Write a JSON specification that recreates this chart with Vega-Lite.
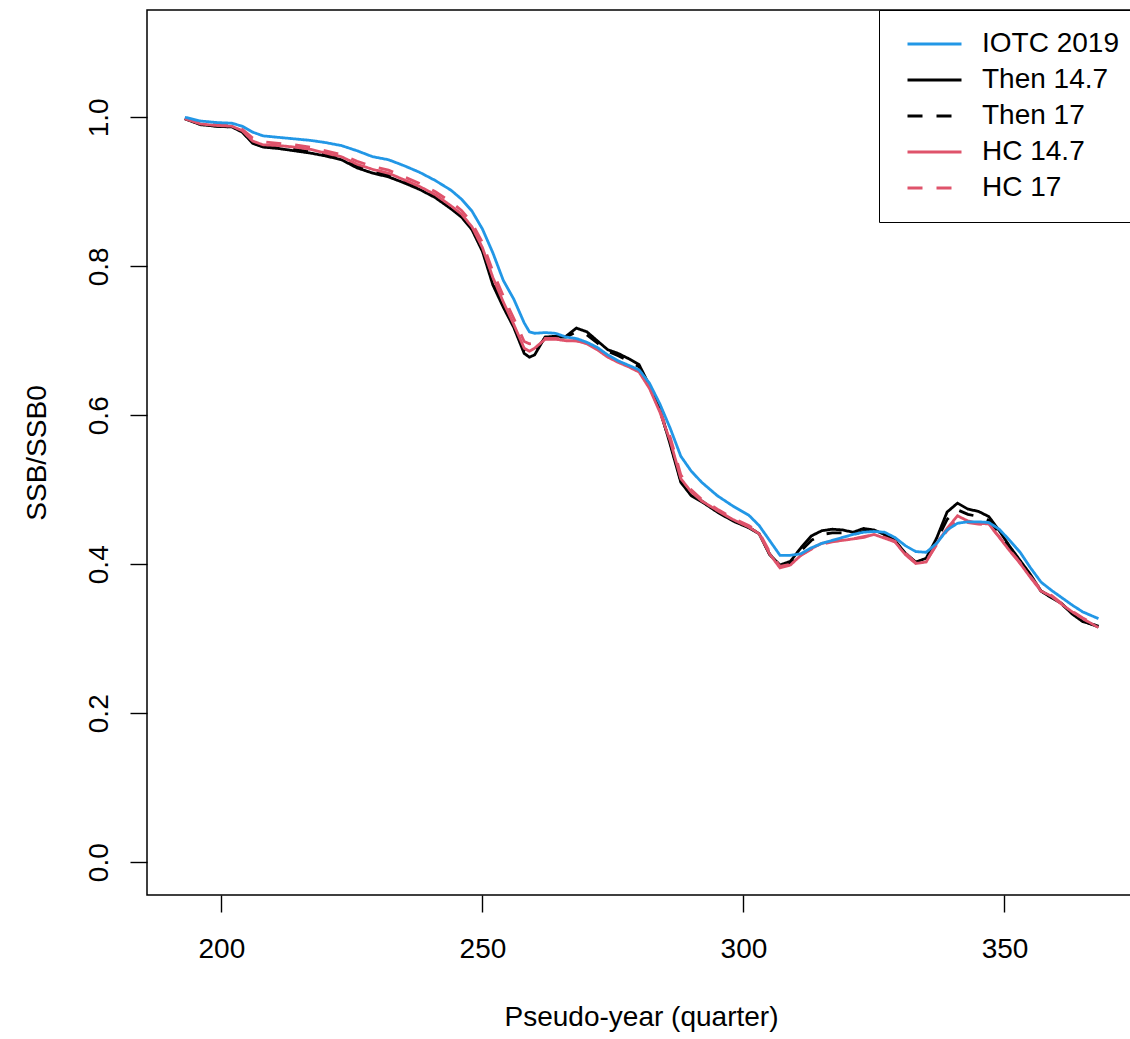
{
  "$schema": "https://vega.github.io/schema/vega-lite/v6.json",
  "autosize": "none",
  "padding": {"left": 147, "top": 10, "right": 0, "bottom": 144},
  "width": 988,
  "height": 885,
  "background": "white",
  "config": {
    "font": "Liberation Sans",
    "view": {"stroke": "#000000", "strokeWidth": 1.5},
    "axis": {"grid": false, "domain": false, "tickColor": "#000000", "tickWidth": 1.4, "tickSize": 17, "labelColor": "#000000", "labelFontSize": 28, "titleFontSize": 28, "titleFontWeight": "normal", "titleColor": "#000000", "labelFont": "Liberation Sans", "titleFont": "Liberation Sans"}
  },
  "data": {"values": [
    {"q":193,"s":"Then 14.7","v":0.998},{"q":196,"s":"Then 14.7","v":0.990},{"q":199,"s":"Then 14.7","v":0.988},{"q":202,"s":"Then 14.7","v":0.987},{"q":204,"s":"Then 14.7","v":0.980},{"q":206,"s":"Then 14.7","v":0.965},{"q":208,"s":"Then 14.7","v":0.960},{"q":211,"s":"Then 14.7","v":0.958},{"q":214,"s":"Then 14.7","v":0.955},{"q":217,"s":"Then 14.7","v":0.952},{"q":220,"s":"Then 14.7","v":0.948},{"q":223,"s":"Then 14.7","v":0.943},{"q":226,"s":"Then 14.7","v":0.932},{"q":229,"s":"Then 14.7","v":0.925},{"q":232,"s":"Then 14.7","v":0.920},{"q":235,"s":"Then 14.7","v":0.912},{"q":238,"s":"Then 14.7","v":0.903},{"q":241,"s":"Then 14.7","v":0.892},{"q":244,"s":"Then 14.7","v":0.877},{"q":246,"s":"Then 14.7","v":0.866},{"q":248,"s":"Then 14.7","v":0.849},{"q":250,"s":"Then 14.7","v":0.820},{"q":252,"s":"Then 14.7","v":0.775},{"q":254,"s":"Then 14.7","v":0.745},{"q":256,"s":"Then 14.7","v":0.718},{"q":258,"s":"Then 14.7","v":0.683},{"q":259,"s":"Then 14.7","v":0.678},{"q":260,"s":"Then 14.7","v":0.681},{"q":262,"s":"Then 14.7","v":0.705},{"q":264,"s":"Then 14.7","v":0.706},{"q":266,"s":"Then 14.7","v":0.706},{"q":268,"s":"Then 14.7","v":0.717},{"q":270,"s":"Then 14.7","v":0.712},{"q":272,"s":"Then 14.7","v":0.700},{"q":274,"s":"Then 14.7","v":0.688},{"q":276,"s":"Then 14.7","v":0.683},{"q":278,"s":"Then 14.7","v":0.676},{"q":280,"s":"Then 14.7","v":0.668},{"q":282,"s":"Then 14.7","v":0.640},{"q":284,"s":"Then 14.7","v":0.608},{"q":286,"s":"Then 14.7","v":0.560},{"q":288,"s":"Then 14.7","v":0.510},{"q":290,"s":"Then 14.7","v":0.492},{"q":292,"s":"Then 14.7","v":0.484},{"q":295,"s":"Then 14.7","v":0.470},{"q":298,"s":"Then 14.7","v":0.458},{"q":301,"s":"Then 14.7","v":0.449},{"q":303,"s":"Then 14.7","v":0.441},{"q":305,"s":"Then 14.7","v":0.413},{"q":307,"s":"Then 14.7","v":0.399},{"q":309,"s":"Then 14.7","v":0.404},{"q":311,"s":"Then 14.7","v":0.422},{"q":313,"s":"Then 14.7","v":0.438},{"q":315,"s":"Then 14.7","v":0.445},{"q":317,"s":"Then 14.7","v":0.447},{"q":319,"s":"Then 14.7","v":0.446},{"q":321,"s":"Then 14.7","v":0.443},{"q":323,"s":"Then 14.7","v":0.448},{"q":325,"s":"Then 14.7","v":0.446},{"q":327,"s":"Then 14.7","v":0.440},{"q":329,"s":"Then 14.7","v":0.432},{"q":331,"s":"Then 14.7","v":0.415},{"q":333,"s":"Then 14.7","v":0.403},{"q":335,"s":"Then 14.7","v":0.408},{"q":337,"s":"Then 14.7","v":0.435},{"q":339,"s":"Then 14.7","v":0.470},{"q":341,"s":"Then 14.7","v":0.482},{"q":343,"s":"Then 14.7","v":0.474},{"q":345,"s":"Then 14.7","v":0.471},{"q":347,"s":"Then 14.7","v":0.464},{"q":349,"s":"Then 14.7","v":0.445},{"q":351,"s":"Then 14.7","v":0.424},{"q":353,"s":"Then 14.7","v":0.405},{"q":355,"s":"Then 14.7","v":0.386},{"q":357,"s":"Then 14.7","v":0.364},{"q":359,"s":"Then 14.7","v":0.355},{"q":361,"s":"Then 14.7","v":0.347},{"q":363,"s":"Then 14.7","v":0.333},{"q":365,"s":"Then 14.7","v":0.323},{"q":368,"s":"Then 14.7","v":0.317},

    {"q":193,"s":"Then 17","v":0.998},{"q":196,"s":"Then 17","v":0.991},{"q":199,"s":"Then 17","v":0.988},{"q":202,"s":"Then 17","v":0.987},{"q":204,"s":"Then 17","v":0.981},{"q":206,"s":"Then 17","v":0.966},{"q":208,"s":"Then 17","v":0.961},{"q":211,"s":"Then 17","v":0.959},{"q":214,"s":"Then 17","v":0.957},{"q":217,"s":"Then 17","v":0.954},{"q":220,"s":"Then 17","v":0.950},{"q":223,"s":"Then 17","v":0.945},{"q":226,"s":"Then 17","v":0.934},{"q":229,"s":"Then 17","v":0.927},{"q":232,"s":"Then 17","v":0.922},{"q":235,"s":"Then 17","v":0.914},{"q":238,"s":"Then 17","v":0.905},{"q":241,"s":"Then 17","v":0.894},{"q":244,"s":"Then 17","v":0.879},{"q":246,"s":"Then 17","v":0.868},{"q":248,"s":"Then 17","v":0.851},{"q":250,"s":"Then 17","v":0.823},{"q":252,"s":"Then 17","v":0.780},{"q":254,"s":"Then 17","v":0.749},{"q":256,"s":"Then 17","v":0.720},{"q":258,"s":"Then 17","v":0.687},{"q":259,"s":"Then 17","v":0.682},{"q":260,"s":"Then 17","v":0.685},{"q":262,"s":"Then 17","v":0.704},{"q":264,"s":"Then 17","v":0.705},{"q":266,"s":"Then 17","v":0.705},{"q":268,"s":"Then 17","v":0.712},{"q":270,"s":"Then 17","v":0.708},{"q":272,"s":"Then 17","v":0.697},{"q":274,"s":"Then 17","v":0.686},{"q":276,"s":"Then 17","v":0.680},{"q":278,"s":"Then 17","v":0.673},{"q":280,"s":"Then 17","v":0.665},{"q":282,"s":"Then 17","v":0.638},{"q":284,"s":"Then 17","v":0.606},{"q":286,"s":"Then 17","v":0.562},{"q":288,"s":"Then 17","v":0.512},{"q":290,"s":"Then 17","v":0.494},{"q":292,"s":"Then 17","v":0.485},{"q":295,"s":"Then 17","v":0.471},{"q":298,"s":"Then 17","v":0.459},{"q":301,"s":"Then 17","v":0.450},{"q":303,"s":"Then 17","v":0.441},{"q":305,"s":"Then 17","v":0.414},{"q":307,"s":"Then 17","v":0.397},{"q":309,"s":"Then 17","v":0.401},{"q":311,"s":"Then 17","v":0.418},{"q":313,"s":"Then 17","v":0.432},{"q":315,"s":"Then 17","v":0.440},{"q":317,"s":"Then 17","v":0.442},{"q":319,"s":"Then 17","v":0.442},{"q":321,"s":"Then 17","v":0.440},{"q":323,"s":"Then 17","v":0.444},{"q":325,"s":"Then 17","v":0.444},{"q":327,"s":"Then 17","v":0.438},{"q":329,"s":"Then 17","v":0.431},{"q":331,"s":"Then 17","v":0.414},{"q":333,"s":"Then 17","v":0.402},{"q":335,"s":"Then 17","v":0.405},{"q":337,"s":"Then 17","v":0.432},{"q":339,"s":"Then 17","v":0.460},{"q":341,"s":"Then 17","v":0.473},{"q":343,"s":"Then 17","v":0.467},{"q":345,"s":"Then 17","v":0.464},{"q":347,"s":"Then 17","v":0.459},{"q":349,"s":"Then 17","v":0.441},{"q":351,"s":"Then 17","v":0.421},{"q":353,"s":"Then 17","v":0.403},{"q":355,"s":"Then 17","v":0.384},{"q":357,"s":"Then 17","v":0.364},{"q":359,"s":"Then 17","v":0.356},{"q":361,"s":"Then 17","v":0.346},{"q":363,"s":"Then 17","v":0.334},{"q":365,"s":"Then 17","v":0.324},{"q":368,"s":"Then 17","v":0.316},

    {"q":193,"s":"HC 14.7","v":0.998},{"q":196,"s":"HC 14.7","v":0.991},{"q":199,"s":"HC 14.7","v":0.989},{"q":202,"s":"HC 14.7","v":0.988},{"q":204,"s":"HC 14.7","v":0.982},{"q":206,"s":"HC 14.7","v":0.968},{"q":208,"s":"HC 14.7","v":0.963},{"q":211,"s":"HC 14.7","v":0.962},{"q":214,"s":"HC 14.7","v":0.960},{"q":217,"s":"HC 14.7","v":0.957},{"q":220,"s":"HC 14.7","v":0.952},{"q":223,"s":"HC 14.7","v":0.947},{"q":226,"s":"HC 14.7","v":0.937},{"q":229,"s":"HC 14.7","v":0.930},{"q":232,"s":"HC 14.7","v":0.925},{"q":235,"s":"HC 14.7","v":0.916},{"q":238,"s":"HC 14.7","v":0.907},{"q":241,"s":"HC 14.7","v":0.896},{"q":244,"s":"HC 14.7","v":0.881},{"q":246,"s":"HC 14.7","v":0.870},{"q":248,"s":"HC 14.7","v":0.853},{"q":250,"s":"HC 14.7","v":0.825},{"q":252,"s":"HC 14.7","v":0.785},{"q":254,"s":"HC 14.7","v":0.752},{"q":256,"s":"HC 14.7","v":0.722},{"q":258,"s":"HC 14.7","v":0.690},{"q":259,"s":"HC 14.7","v":0.686},{"q":260,"s":"HC 14.7","v":0.690},{"q":262,"s":"HC 14.7","v":0.702},{"q":264,"s":"HC 14.7","v":0.702},{"q":266,"s":"HC 14.7","v":0.700},{"q":268,"s":"HC 14.7","v":0.700},{"q":270,"s":"HC 14.7","v":0.696},{"q":272,"s":"HC 14.7","v":0.688},{"q":274,"s":"HC 14.7","v":0.678},{"q":276,"s":"HC 14.7","v":0.671},{"q":278,"s":"HC 14.7","v":0.665},{"q":280,"s":"HC 14.7","v":0.658},{"q":282,"s":"HC 14.7","v":0.636},{"q":284,"s":"HC 14.7","v":0.604},{"q":286,"s":"HC 14.7","v":0.565},{"q":288,"s":"HC 14.7","v":0.515},{"q":290,"s":"HC 14.7","v":0.497},{"q":292,"s":"HC 14.7","v":0.485},{"q":295,"s":"HC 14.7","v":0.472},{"q":298,"s":"HC 14.7","v":0.460},{"q":301,"s":"HC 14.7","v":0.450},{"q":303,"s":"HC 14.7","v":0.441},{"q":305,"s":"HC 14.7","v":0.414},{"q":307,"s":"HC 14.7","v":0.395},{"q":309,"s":"HC 14.7","v":0.399},{"q":311,"s":"HC 14.7","v":0.412},{"q":313,"s":"HC 14.7","v":0.421},{"q":315,"s":"HC 14.7","v":0.428},{"q":317,"s":"HC 14.7","v":0.431},{"q":319,"s":"HC 14.7","v":0.432},{"q":321,"s":"HC 14.7","v":0.434},{"q":323,"s":"HC 14.7","v":0.436},{"q":325,"s":"HC 14.7","v":0.440},{"q":327,"s":"HC 14.7","v":0.435},{"q":329,"s":"HC 14.7","v":0.430},{"q":331,"s":"HC 14.7","v":0.413},{"q":333,"s":"HC 14.7","v":0.401},{"q":335,"s":"HC 14.7","v":0.403},{"q":337,"s":"HC 14.7","v":0.428},{"q":339,"s":"HC 14.7","v":0.448},{"q":341,"s":"HC 14.7","v":0.465},{"q":343,"s":"HC 14.7","v":0.458},{"q":345,"s":"HC 14.7","v":0.455},{"q":347,"s":"HC 14.7","v":0.454},{"q":349,"s":"HC 14.7","v":0.436},{"q":351,"s":"HC 14.7","v":0.418},{"q":353,"s":"HC 14.7","v":0.401},{"q":355,"s":"HC 14.7","v":0.382},{"q":357,"s":"HC 14.7","v":0.364},{"q":359,"s":"HC 14.7","v":0.357},{"q":361,"s":"HC 14.7","v":0.346},{"q":363,"s":"HC 14.7","v":0.336},{"q":365,"s":"HC 14.7","v":0.327},{"q":368,"s":"HC 14.7","v":0.315},

    {"q":193,"s":"HC 17","v":0.999},{"q":196,"s":"HC 17","v":0.992},{"q":199,"s":"HC 17","v":0.990},{"q":202,"s":"HC 17","v":0.989},{"q":204,"s":"HC 17","v":0.984},{"q":206,"s":"HC 17","v":0.972},{"q":208,"s":"HC 17","v":0.967},{"q":211,"s":"HC 17","v":0.965},{"q":214,"s":"HC 17","v":0.963},{"q":217,"s":"HC 17","v":0.960},{"q":220,"s":"HC 17","v":0.955},{"q":223,"s":"HC 17","v":0.950},{"q":226,"s":"HC 17","v":0.941},{"q":229,"s":"HC 17","v":0.934},{"q":232,"s":"HC 17","v":0.929},{"q":235,"s":"HC 17","v":0.920},{"q":238,"s":"HC 17","v":0.911},{"q":241,"s":"HC 17","v":0.900},{"q":244,"s":"HC 17","v":0.886},{"q":246,"s":"HC 17","v":0.875},{"q":248,"s":"HC 17","v":0.858},{"q":250,"s":"HC 17","v":0.832},{"q":252,"s":"HC 17","v":0.793},{"q":254,"s":"HC 17","v":0.760},{"q":256,"s":"HC 17","v":0.730},{"q":258,"s":"HC 17","v":0.699},{"q":259,"s":"HC 17","v":0.696},{"q":260,"s":"HC 17","v":0.697},{"q":262,"s":"HC 17","v":0.703},{"q":264,"s":"HC 17","v":0.703},{"q":266,"s":"HC 17","v":0.701},{"q":268,"s":"HC 17","v":0.700},{"q":270,"s":"HC 17","v":0.697},{"q":272,"s":"HC 17","v":0.689},{"q":274,"s":"HC 17","v":0.679},{"q":276,"s":"HC 17","v":0.672},{"q":278,"s":"HC 17","v":0.666},{"q":280,"s":"HC 17","v":0.659},{"q":282,"s":"HC 17","v":0.638},{"q":284,"s":"HC 17","v":0.606},{"q":286,"s":"HC 17","v":0.570},{"q":288,"s":"HC 17","v":0.520},{"q":290,"s":"HC 17","v":0.500},{"q":292,"s":"HC 17","v":0.487},{"q":295,"s":"HC 17","v":0.474},{"q":298,"s":"HC 17","v":0.462},{"q":301,"s":"HC 17","v":0.452},{"q":303,"s":"HC 17","v":0.443},{"q":305,"s":"HC 17","v":0.417},{"q":307,"s":"HC 17","v":0.397},{"q":309,"s":"HC 17","v":0.400},{"q":311,"s":"HC 17","v":0.412},{"q":313,"s":"HC 17","v":0.420},{"q":315,"s":"HC 17","v":0.427},{"q":317,"s":"HC 17","v":0.430},{"q":319,"s":"HC 17","v":0.432},{"q":321,"s":"HC 17","v":0.434},{"q":323,"s":"HC 17","v":0.437},{"q":325,"s":"HC 17","v":0.440},{"q":327,"s":"HC 17","v":0.436},{"q":329,"s":"HC 17","v":0.431},{"q":331,"s":"HC 17","v":0.415},{"q":333,"s":"HC 17","v":0.402},{"q":335,"s":"HC 17","v":0.404},{"q":337,"s":"HC 17","v":0.426},{"q":339,"s":"HC 17","v":0.445},{"q":341,"s":"HC 17","v":0.460},{"q":343,"s":"HC 17","v":0.456},{"q":345,"s":"HC 17","v":0.454},{"q":347,"s":"HC 17","v":0.453},{"q":349,"s":"HC 17","v":0.437},{"q":351,"s":"HC 17","v":0.419},{"q":353,"s":"HC 17","v":0.402},{"q":355,"s":"HC 17","v":0.383},{"q":357,"s":"HC 17","v":0.366},{"q":359,"s":"HC 17","v":0.358},{"q":361,"s":"HC 17","v":0.347},{"q":363,"s":"HC 17","v":0.337},{"q":365,"s":"HC 17","v":0.328},{"q":368,"s":"HC 17","v":0.316},

    {"q":193,"s":"IOTC 2019","v":1.000},{"q":196,"s":"IOTC 2019","v":0.995},{"q":199,"s":"IOTC 2019","v":0.993},{"q":202,"s":"IOTC 2019","v":0.992},{"q":204,"s":"IOTC 2019","v":0.988},{"q":206,"s":"IOTC 2019","v":0.980},{"q":208,"s":"IOTC 2019","v":0.975},{"q":211,"s":"IOTC 2019","v":0.973},{"q":214,"s":"IOTC 2019","v":0.971},{"q":217,"s":"IOTC 2019","v":0.969},{"q":220,"s":"IOTC 2019","v":0.966},{"q":223,"s":"IOTC 2019","v":0.962},{"q":226,"s":"IOTC 2019","v":0.955},{"q":229,"s":"IOTC 2019","v":0.947},{"q":232,"s":"IOTC 2019","v":0.943},{"q":235,"s":"IOTC 2019","v":0.935},{"q":238,"s":"IOTC 2019","v":0.926},{"q":241,"s":"IOTC 2019","v":0.915},{"q":244,"s":"IOTC 2019","v":0.902},{"q":246,"s":"IOTC 2019","v":0.890},{"q":248,"s":"IOTC 2019","v":0.874},{"q":250,"s":"IOTC 2019","v":0.850},{"q":252,"s":"IOTC 2019","v":0.818},{"q":254,"s":"IOTC 2019","v":0.781},{"q":256,"s":"IOTC 2019","v":0.756},{"q":258,"s":"IOTC 2019","v":0.724},{"q":259,"s":"IOTC 2019","v":0.712},{"q":260,"s":"IOTC 2019","v":0.710},{"q":262,"s":"IOTC 2019","v":0.711},{"q":264,"s":"IOTC 2019","v":0.710},{"q":266,"s":"IOTC 2019","v":0.705},{"q":268,"s":"IOTC 2019","v":0.703},{"q":270,"s":"IOTC 2019","v":0.698},{"q":272,"s":"IOTC 2019","v":0.691},{"q":274,"s":"IOTC 2019","v":0.681},{"q":276,"s":"IOTC 2019","v":0.673},{"q":278,"s":"IOTC 2019","v":0.667},{"q":280,"s":"IOTC 2019","v":0.661},{"q":282,"s":"IOTC 2019","v":0.643},{"q":284,"s":"IOTC 2019","v":0.615},{"q":286,"s":"IOTC 2019","v":0.582},{"q":288,"s":"IOTC 2019","v":0.545},{"q":290,"s":"IOTC 2019","v":0.525},{"q":292,"s":"IOTC 2019","v":0.510},{"q":295,"s":"IOTC 2019","v":0.492},{"q":298,"s":"IOTC 2019","v":0.478},{"q":301,"s":"IOTC 2019","v":0.466},{"q":303,"s":"IOTC 2019","v":0.452},{"q":305,"s":"IOTC 2019","v":0.432},{"q":307,"s":"IOTC 2019","v":0.412},{"q":309,"s":"IOTC 2019","v":0.412},{"q":311,"s":"IOTC 2019","v":0.414},{"q":313,"s":"IOTC 2019","v":0.422},{"q":315,"s":"IOTC 2019","v":0.428},{"q":317,"s":"IOTC 2019","v":0.432},{"q":319,"s":"IOTC 2019","v":0.436},{"q":321,"s":"IOTC 2019","v":0.440},{"q":323,"s":"IOTC 2019","v":0.443},{"q":325,"s":"IOTC 2019","v":0.444},{"q":327,"s":"IOTC 2019","v":0.443},{"q":329,"s":"IOTC 2019","v":0.436},{"q":331,"s":"IOTC 2019","v":0.425},{"q":333,"s":"IOTC 2019","v":0.417},{"q":335,"s":"IOTC 2019","v":0.416},{"q":337,"s":"IOTC 2019","v":0.428},{"q":339,"s":"IOTC 2019","v":0.446},{"q":341,"s":"IOTC 2019","v":0.455},{"q":343,"s":"IOTC 2019","v":0.457},{"q":345,"s":"IOTC 2019","v":0.457},{"q":347,"s":"IOTC 2019","v":0.456},{"q":349,"s":"IOTC 2019","v":0.447},{"q":351,"s":"IOTC 2019","v":0.432},{"q":353,"s":"IOTC 2019","v":0.416},{"q":355,"s":"IOTC 2019","v":0.395},{"q":357,"s":"IOTC 2019","v":0.376},{"q":359,"s":"IOTC 2019","v":0.365},{"q":361,"s":"IOTC 2019","v":0.355},{"q":363,"s":"IOTC 2019","v":0.345},{"q":365,"s":"IOTC 2019","v":0.336},{"q":368,"s":"IOTC 2019","v":0.327}
  ]},
  "mark": {"type": "line", "strokeWidth": 2.8},
  "encoding": {
    "x": {
      "field": "q", "type": "quantitative",
      "scale": {"domain": [185.75, 375], "nice": false, "zero": false},
      "axis": {"values": [200, 250, 300, 350], "title": "Pseudo-year (quarter)", "labelPadding": 45, "labelBaseline": "alphabetic", "labelFlush": false, "labelOverlap": false, "titleX": 494, "titleY": 130, "titleBaseline": "alphabetic", "titleAnchor": "middle", "titleAlign": "center"}
    },
    "y": {
      "field": "v", "type": "quantitative",
      "scale": {"domain": [-0.044, 1.144], "nice": false, "zero": false},
      "axis": {"values": [0, 0.2, 0.4, 0.6, 0.8, 1.0], "format": ".1f", "title": "SSB/SSB0", "labelAngle": -90, "labelAlign": "center", "labelBaseline": "alphabetic", "labelPadding": 23, "labelFlush": false, "labelOverlap": false, "titleAngle": -90, "titleX": -102, "titleY": 442.5, "titleAlign": "center", "titleBaseline": "alphabetic"}
    },
    "color": {
      "field": "s", "type": "nominal",
      "scale": {"domain": ["IOTC 2019", "Then 14.7", "Then 17", "HC 14.7", "HC 17"], "range": ["#2297E6", "#000000", "#000000", "#DF536B", "#DF536B"]},
      "legend": {"title": null, "orient": "none", "legendX": 732, "legendY": 0, "fillColor": "white", "strokeColor": "#000000", "padding": 16, "symbolType": "stroke", "symbolSize": 2916, "symbolStrokeWidth": 2.8, "symbolOffset": 11, "clipHeight": 36, "labelFontSize": 28, "labelFont": "Liberation Sans", "labelColor": "#000000", "labelOffset": 19, "rowPadding": 0, "labelLimit": 400}
    },
    "strokeDash": {
      "field": "s", "type": "nominal",
      "scale": {"domain": ["IOTC 2019", "Then 14.7", "Then 17", "HC 14.7", "HC 17"], "range": [[1, 0], [1, 0], [15, 14], [1, 0], [15, 14]]},
      "legend": {"title": null}
    }
  }
}
